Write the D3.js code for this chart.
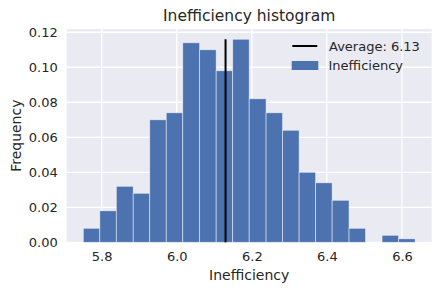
<!DOCTYPE html>
<html>
<head>
<meta charset="utf-8">
<script src="https://cdn.jsdelivr.net/npm/d3@7"></script>
<style>
  body { margin: 0; background: #fff; }
  svg { display: block; font-family: "DejaVu Sans", sans-serif; }
</style>
</head>
<body>
<svg id="chart" width="441" height="293"></svg>
<script>
// bin edges and relative frequencies
const binEdges = [5.751, 5.795, 5.839, 5.884, 5.928, 5.972, 6.016, 6.061, 6.105, 6.149, 6.193,
                  6.238, 6.282, 6.326, 6.370, 6.414, 6.459, 6.503, 6.547, 6.591, 6.635];
const frequencies = [0.008, 0.018, 0.032, 0.028, 0.070, 0.074, 0.114, 0.110, 0.098, 0.116,
                     0.082, 0.074, 0.064, 0.040, 0.034, 0.024, 0.008, 0.000, 0.004, 0.002];
const average = 6.13;
const xTicks = [5.8, 6.0, 6.2, 6.4, 6.6];
const yTicks = [0.00, 0.02, 0.04, 0.06, 0.08, 0.10, 0.12];

const BAR_COLOR = "#4c72b0";
const BG = "#eaeaf2";

const plot = { left: 66.7, right: 431.7, top: 29.1, bottom: 242.3 };

const bins = frequencies.map((f, i) => ({ x0: binEdges[i], x1: binEdges[i + 1], f }));

const span = binEdges[binEdges.length - 1] - binEdges[0];
const x = d3.scaleLinear()
  .domain([binEdges[0] - span * 0.05, binEdges[binEdges.length - 1] + span * 0.05])
  .range([plot.left, plot.right]);
const y = d3.scaleLinear()
  .domain([0, d3.max(frequencies) * 1.05])
  .range([plot.bottom, plot.top]);

const svg = d3.select("#chart");

svg.append("rect")
  .attr("x", plot.left).attr("y", plot.top)
  .attr("width", plot.right - plot.left).attr("height", plot.bottom - plot.top)
  .attr("fill", BG);

// grid
const grid = svg.append("g").attr("stroke", "#fff").attr("stroke-width", 1.3);
grid.selectAll("line.gx").data(xTicks).join("line")
  .attr("x1", d => x(d)).attr("x2", d => x(d))
  .attr("y1", plot.top).attr("y2", plot.bottom);
grid.selectAll("line.gy").data(yTicks).join("line")
  .attr("x1", plot.left).attr("x2", plot.right)
  .attr("y1", d => y(d)).attr("y2", d => y(d));

// bars
svg.append("g").selectAll("rect").data(bins.filter(b => b.f > 0)).join("rect")
  .attr("x", d => x(d.x0))
  .attr("y", d => y(d.f))
  .attr("width", d => x(d.x1) - x(d.x0))
  .attr("height", d => y(0) - y(d.f))
  .attr("fill", BAR_COLOR)
  .attr("stroke", "#fff")
  .attr("stroke-opacity", 0.6)
  .attr("stroke-width", 0.8);

// average line
svg.append("line")
  .attr("x1", x(average)).attr("x2", x(average))
  .attr("y1", y(0)).attr("y2", y(d3.max(frequencies)))
  .attr("stroke", "#000").attr("stroke-width", 2);

// axes (no domain, no tick lines)
const xAxis = svg.append("g")
  .attr("transform", `translate(0,${plot.bottom})`)
  .call(d3.axisBottom(x).tickValues(xTicks).tickFormat(d3.format(".1f")).tickSize(0).tickPadding(9));
const yAxis = svg.append("g")
  .attr("transform", `translate(${plot.left},0)`)
  .call(d3.axisLeft(y).tickValues(yTicks).tickFormat(d3.format(".2f")).tickSize(0).tickPadding(9));
[xAxis, yAxis].forEach(a => {
  a.select(".domain").remove();
  a.selectAll("text").attr("fill", "#262626").style("font-size", "13px")
    .style("font-family", "DejaVu Sans, sans-serif");
});

// labels
svg.append("text")
  .attr("x", (plot.left + plot.right) / 2).attr("y", 21)
  .attr("text-anchor", "middle").attr("fill", "#262626")
  .style("font-size", "15.5px").text("Inefficiency histogram");
svg.append("text")
  .attr("x", (plot.left + plot.right) / 2).attr("y", 280)
  .attr("text-anchor", "middle").attr("fill", "#262626")
  .style("font-size", "14px").text("Inefficiency");
svg.append("text")
  .attr("transform", `translate(21,${(plot.top + plot.bottom) / 2}) rotate(-90)`)
  .attr("text-anchor", "middle").attr("fill", "#262626")
  .style("font-size", "14px").text("Frequency");

// legend
const legend = svg.append("g");
legend.append("line")
  .attr("x1", 292.3).attr("x2", 317.3).attr("y1", 46).attr("y2", 46)
  .attr("stroke", "#000").attr("stroke-width", 2);
legend.append("text")
  .attr("x", 329).attr("y", 50.5).attr("fill", "#262626")
  .style("font-size", "13px").text(`Average: ${average.toFixed(2)}`);
legend.append("rect")
  .attr("x", 291.7).attr("y", 61).attr("width", 26.6).attr("height", 9)
  .attr("fill", BAR_COLOR);
legend.append("text")
  .attr("x", 328.5).attr("y", 70.3).attr("fill", "#262626")
  .style("font-size", "13px").text("Inefficiency");
</script>
</body>
</html>
